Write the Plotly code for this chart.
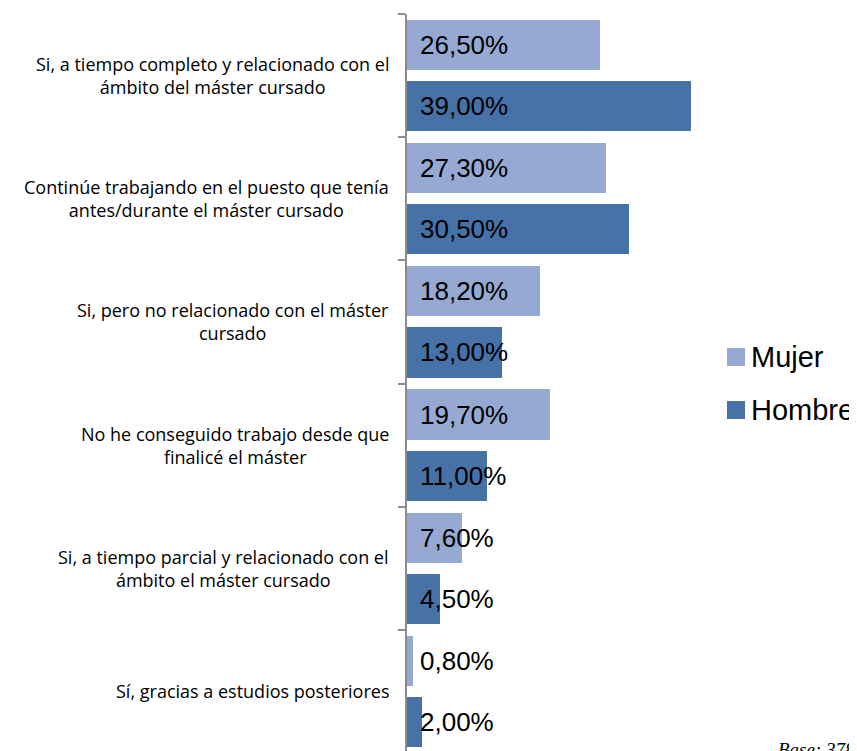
import plotly.graph_objects as go

categories = [
    "Si, a tiempo completo y relacionado con el<br>ámbito del máster cursado",
    "Continúe trabajando en el puesto que tenía<br>antes/durante el máster cursado",
    "Si, pero no relacionado con el máster<br>cursado",
    "No he conseguido trabajo desde que<br>finalicé el máster",
    "Si, a tiempo parcial y relacionado con el<br>ámbito el máster cursado",
    "Sí, gracias a estudios posteriores",
]
mujer = [26.5, 27.3, 18.2, 19.7, 7.6, 0.8]
hombre = [39.0, 30.5, 13.0, 11.0, 4.5, 2.0]
series_names = ["Mujer", "Hombre"]
colors = ["#95A9D2", "#4672A8"]

# page body has an 8px margin: work in screen px, subtract 8
OX, OY = 8, 8
PLOT_L, PLOT_R, PLOT_T, PLOT_B = 407, 700, 14, 751

OFF = 0.248
W = 0.407
n = len(categories)
pos = list(range(n))

fig = go.Figure()
for name, vals, col, sgn in [(series_names[0], mujer, colors[0], -1),
                             (series_names[1], hombre, colors[1], 1)]:
    ys = [p + sgn * OFF for p in pos]
    fig.add_trace(go.Bar(x=vals, y=ys, orientation="h", width=W,
                         marker=dict(color=col, line=dict(width=0)),
                         name=name, showlegend=False, hoverinfo="x"))
    for v, y in zip(vals, ys):
        fig.add_annotation(x=0, y=y, xref="x", yref="y", xanchor="left",
                           yanchor="middle", xshift=11, showarrow=False,
                           text=f"{v:.2f}".replace(".", ",") + "%",
                           font=dict(family="Liberation Sans", size=26, color="#000"))

for c, p in zip(categories, pos):
    fig.add_annotation(x=0, y=p, xref="paper", yref="y", xanchor="right",
                       yanchor="middle", xshift=-16, showarrow=False, align="center",
                       text=c, font=dict(family="Open Sans", size=18, color="#000"))

# legend (manual)
leg_y = [357, 410]
plot_h = PLOT_B - PLOT_T
for name, col, py in zip(series_names, colors, leg_y):
    yp = 1 - (py - PLOT_T) / plot_h
    fig.add_shape(type="rect", xref="paper", yref="paper", xsizemode="pixel",
                  ysizemode="pixel", xanchor=1, yanchor=yp,
                  x0=727 - PLOT_R, x1=745 - PLOT_R, y0=-9, y1=9,
                  fillcolor=col, line=dict(width=0))
    fig.add_annotation(x=1, y=yp, xref="paper", yref="paper", xanchor="left",
                       yanchor="middle", xshift=749 - PLOT_R, showarrow=False,
                       text=name, font=dict(family="Liberation Sans", size=29, color="#000"))

fig.add_annotation(x=1, y=0, xref="paper", yref="paper", xanchor="left",
                   yanchor="top", xshift=776 - PLOT_R, yshift=PLOT_B - 737, showarrow=False,
                   text="<i>Base: 378</i>",
                   font=dict(family="Liberation Serif", size=19, color="#000"))

FIG_W, FIG_H = 857 - OX, 751 - OY
fig.update_layout(
    width=FIG_W, height=FIG_H,
    margin=dict(l=PLOT_L - OX, r=FIG_W - (PLOT_R - OX), t=PLOT_T - OY, b=0, pad=0),
    paper_bgcolor="white", plot_bgcolor="white",
    xaxis=dict(range=[0, (PLOT_R - PLOT_L) / 7.28], visible=False, fixedrange=True),
    yaxis=dict(range=[5.5 - 2 * 6 / 739, -0.5], tickvals=[i - 0.5 for i in range(n + 1)],
               showticklabels=False, ticks="outside", ticklen=7, tickcolor="#8c8c8c",
               tickwidth=2, showline=True, linecolor="#8c8c8c", linewidth=2,
               showgrid=False, zeroline=False),
    bargap=0, barmode="overlay",
)

fig.write_html("out.html")
